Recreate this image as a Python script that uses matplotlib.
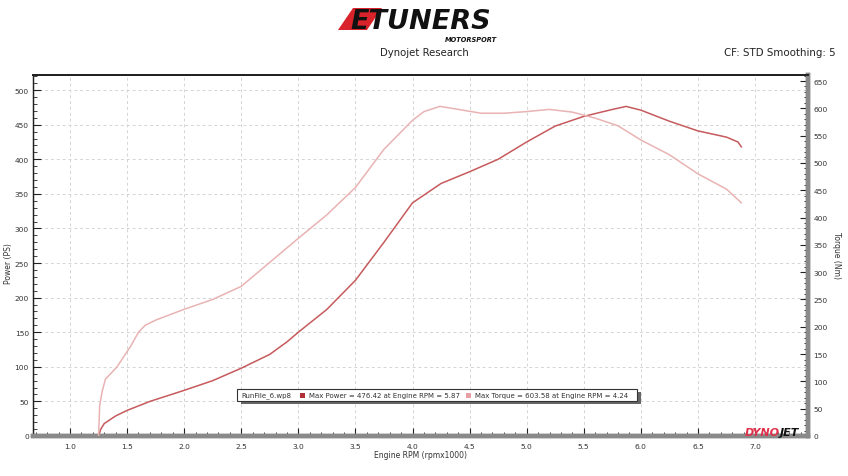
import matplotlib
matplotlib.use('Agg')
import matplotlib.pyplot as plt
from matplotlib.patches import Rectangle, Polygon
from matplotlib.ticker import MultipleLocator

# ---------------- data ----------------
rpm_power = [1.25, 1.27, 1.30, 1.40, 1.50, 1.70, 2.00, 2.25, 2.50, 2.75, 2.90,
             3.00, 3.25, 3.50, 3.75, 4.00, 4.25, 4.50, 4.75, 5.00, 5.25, 5.50,
             5.75, 5.87, 6.00, 6.25, 6.50, 6.75, 6.85, 6.88]
power_ps = [0, 10, 18, 29, 37, 50, 66, 80, 98, 118, 136,
            150, 183, 225, 280, 337, 365, 382, 400, 425, 448, 462,
            472, 476.4, 471, 455, 441, 432, 425, 418]

rpm_torque = [1.25, 1.26, 1.28, 1.31, 1.41, 1.53, 1.60, 1.66, 1.76, 2.00, 2.25, 2.50,
              2.75, 3.00, 3.25, 3.50, 3.75, 4.00, 4.10, 4.24, 4.40, 4.60, 4.80,
              5.00, 5.20, 5.40, 5.60, 5.80, 6.00, 6.25, 6.50, 6.75, 6.88]
torque_nm = [0, 55, 80, 104, 126, 164, 190, 203, 213, 232, 250, 274,
             318, 362, 405, 455, 525, 578, 594, 603.6, 598, 591, 591,
             594, 598, 593, 582, 568, 542, 515, 480, 452, 427]

x_tick_labels = ['1.0', '1.5', '2.0', '2.5', '3.0', '3.5', '4.0',
                 '4.5', '5.0', '5.5', '6.0', '6.5', '7.0']
x_tick_values = [1.0, 1.5, 2.0, 2.5, 3.0, 3.5, 4.0, 4.5, 5.0, 5.5, 6.0, 6.5, 7.0]
power_ticks = [0, 50, 100, 150, 200, 250, 300, 350, 400, 450, 500]
torque_ticks = [0, 50, 100, 150, 200, 250, 300, 350, 400, 450, 500, 550, 600, 650]

run_name = 'RunFile_6.wp8'
max_power_text = 'Max Power = 476.42 at Engine RPM = 5.87'
max_torque_text = 'Max Torque = 603.58 at Engine RPM = 4.24'

# ---------------- styles ----------------
W, H = 848, 477
POWER_COLOR = '#c65a5c'
TORQUE_COLOR = '#e9b3b3'
TEXT_COLOR = '#333333'
plt.rcParams['font.family'] = ['DejaVu Sans']


def fx(px):
    return px / W


def fy(py):
    return 1 - py / H


fig = plt.figure(figsize=(W / 100, H / 100), dpi=100)
fig.patch.set_facecolor('white')

ax = fig.add_axes([fx(33), fy(437), (808 - 33) / W, (437 - 76) / H])
ax.set_xlim(0.676, 7.464)
ax.set_ylim(0, 521.8)
ax2 = ax.twinx()
ax2.set_ylim(0, 661)

# grid / ticks
ax.set_xticks(x_tick_values)
ax.set_xticklabels(x_tick_labels)
ax.xaxis.set_minor_locator(MultipleLocator(0.1))
ax.set_yticks(power_ticks)
ax.yaxis.set_minor_locator(MultipleLocator(10))
ax2.set_yticks(torque_ticks)
ax2.yaxis.set_minor_locator(MultipleLocator(10))
ax.grid(True, which='major', color='#d4d4d4', linestyle=(0, (3, 3)), linewidth=0.7)
ax.set_axisbelow(True)

# curves
ax.plot(rpm_power, power_ps, color=POWER_COLOR, linewidth=1.1, zorder=3)
ax2.plot(rpm_torque, torque_nm, color=TORQUE_COLOR, linewidth=1.1, zorder=3)

for a in (ax, ax2):
    a.tick_params(axis='both', which='major', direction='in', length=6, width=0.8,
                  labelsize=5.4, labelcolor=TEXT_COLOR, color='#222222', pad=3)
    a.tick_params(axis='both', which='minor', direction='in', length=3, width=0.6,
                  color='#222222')
ax.tick_params(axis='x', which='major', pad=5)
ax2.tick_params(axis='y', which='major', pad=4)

# spines
for a in (ax, ax2):
    a.spines['top'].set_color('#222222')
    a.spines['top'].set_linewidth(1.4)
    a.spines['left'].set_color('#222222')
    a.spines['left'].set_linewidth(0.9)
    a.spines['bottom'].set_color('#8a8a8a')
    a.spines['bottom'].set_linewidth(3.2)
    a.spines['right'].set_color('#8a8a8a')
    a.spines['right'].set_linewidth(3.2)

ax.set_xlabel('Engine RPM (rpmx1000)', fontsize=5.5, color=TEXT_COLOR, labelpad=1)
fig.text(fx(8), fy(264), 'Power (PS)', rotation=90, fontsize=5.5,
         color=TEXT_COLOR, ha='center', va='center')
fig.text(fx(836), fy(256), 'Torque (Nm)', rotation=-90, fontsize=5.5,
         color=TEXT_COLOR, ha='center', va='center')

# header
fig.text(fx(424), fy(53), 'Dynojet Research', fontsize=7.3, color='#222222',
         ha='center', va='center')
fig.text(fx(836), fy(53), 'CF: STD Smoothing: 5', fontsize=7.4, color='#222222',
         ha='right', va='center')

# logo
fig.patches.append(Polygon([[fx(338), fy(31)], [fx(353), fy(9)], [fx(382), fy(9)],
                            [fx(367), fy(31)]], closed=True, transform=fig.transFigure,
                           facecolor='#d8232a', edgecolor='none', zorder=2))
fig.text(fx(350), fy(29), 'ETUNERS', fontsize=19.5, fontweight='heavy', style='italic',
         color='#111111', ha='left', va='baseline', zorder=3)
fig.text(fx(497), fy(40), 'MOTORSPORT', fontsize=4.8, fontweight='bold',
         style='italic', color='#111111', ha='right', va='center', zorder=3)

# legend box with shadow
fig.patches.append(Rectangle((fx(241), fy(405)), 400 / W, 12 / H,
                             transform=fig.transFigure, facecolor='#666666',
                             edgecolor='none', zorder=4))
fig.patches.append(Rectangle((fx(237), fy(402)), 400 / W, 12 / H,
                             transform=fig.transFigure, facecolor='white',
                             edgecolor='#333333', linewidth=0.8, zorder=5))
fig.text(fx(241), fy(396), run_name, fontsize=5.0, color=TEXT_COLOR,
         ha='left', va='center', zorder=6)
fig.patches.append(Rectangle((fx(300), fy(399)), 5 / W, 5 / H,
                             transform=fig.transFigure, facecolor='#b03038',
                             edgecolor='none', zorder=6))
fig.text(fx(309), fy(396), max_power_text, fontsize=5.0, color=TEXT_COLOR,
         ha='left', va='center', zorder=6)
fig.patches.append(Rectangle((fx(466), fy(399)), 5 / W, 5 / H,
                             transform=fig.transFigure, facecolor='#e8a0a4',
                             edgecolor='none', zorder=6))
fig.text(fx(475), fy(396), max_torque_text, fontsize=5.0, color=TEXT_COLOR,
         ha='left', va='center', zorder=6)

# dynojet logo
fig.text(fx(745), fy(433), 'DYNO', fontsize=8, fontweight='heavy', style='italic',
         color='#e0304a', ha='left', va='center', zorder=6)
fig.text(fx(780), fy(433), 'JET', fontsize=8, fontweight='heavy', style='italic',
         color='#111111', ha='left', va='center', zorder=6)

fig.savefig('out.png', dpi=100, facecolor='white')
